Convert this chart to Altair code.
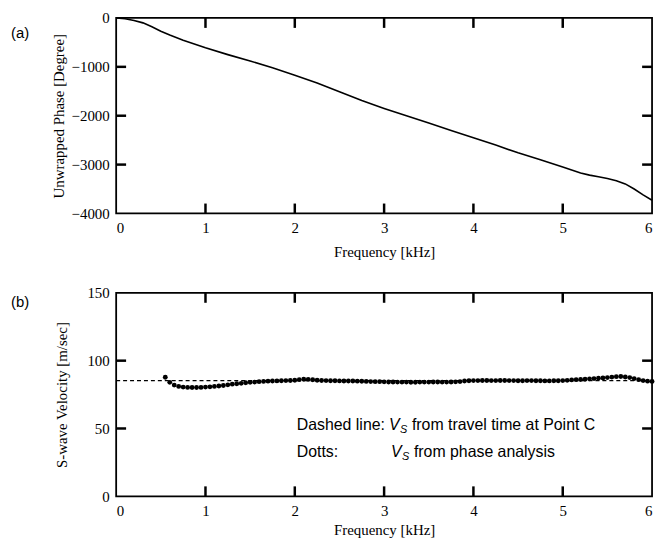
import altair as alt
import pandas as pd

# ---------------- data ----------------
phase_freq = [0.0, 0.1, 0.2, 0.3, 0.4, 0.5, 0.6, 0.75, 1.0, 1.25, 1.5, 1.75, 2.0, 2.25,
              2.5, 2.75, 3.0, 3.25, 3.5, 3.75, 4.0, 4.25, 4.5, 4.75, 5.0, 5.1, 5.2,
              5.3, 5.4, 5.5, 5.6, 5.7, 5.8, 5.9, 6.0]
phase_deg = [0, -15, -50, -100, -180, -270, -350, -455, -610, -750, -880, -1020, -1170,
             -1330, -1510, -1690, -1850, -2000, -2150, -2300, -2450, -2600, -2760, -2900,
             -3050, -3110, -3170, -3215, -3250, -3285, -3330, -3395, -3500, -3620, -3730]

dot_freq = [0.55, 0.60, 0.65, 0.70, 0.75, 0.80, 0.85, 0.90, 0.95, 1.00,
            1.05, 1.10, 1.15, 1.20, 1.25, 1.30, 1.35, 1.40, 1.45, 1.50,
            1.55, 1.60, 1.65, 1.70, 1.75, 1.80, 1.85, 1.90, 1.95, 2.00,
            2.05, 2.10, 2.15, 2.20, 2.25, 2.30, 2.35, 2.40, 2.45, 2.50,
            2.55, 2.60, 2.65, 2.70, 2.75, 2.80, 2.85, 2.90, 2.95, 3.00,
            3.05, 3.10, 3.15, 3.20, 3.25, 3.30, 3.35, 3.40, 3.45, 3.50,
            3.55, 3.60, 3.65, 3.70, 3.75, 3.80, 3.85, 3.90, 3.95, 4.00,
            4.05, 4.10, 4.15, 4.20, 4.25, 4.30, 4.35, 4.40, 4.45, 4.50,
            4.55, 4.60, 4.65, 4.70, 4.75, 4.80, 4.85, 4.90, 4.95, 5.00,
            5.05, 5.10, 5.15, 5.20, 5.25, 5.30, 5.35, 5.40, 5.45, 5.50,
            5.55, 5.60, 5.65, 5.70, 5.75, 5.80, 5.85, 5.90, 5.95, 6.00]
dot_vel = [87.8, 84.0, 82.0, 81.0, 80.5, 80.3, 80.2, 80.2, 80.3, 80.5,
           80.7, 81.0, 81.3, 81.7, 82.2, 82.7, 83.0, 83.3, 83.7, 84.0,
           84.2, 84.5, 84.7, 84.9, 85.0, 85.1, 85.2, 85.3, 85.4, 85.6,
           86.0, 86.3, 86.2, 85.9, 85.6, 85.4, 85.3, 85.2, 85.2, 85.1,
           85.0, 85.0, 85.0, 84.9, 84.8, 84.7, 84.6, 84.5, 84.5, 84.4,
           84.3, 84.3, 84.2, 84.2, 84.2, 84.1, 84.1, 84.2, 84.2, 84.2,
           84.3, 84.3, 84.2, 84.2, 84.3, 84.4, 84.6, 85.0, 85.2, 85.3,
           85.3, 85.4, 85.4, 85.3, 85.3, 85.4, 85.4, 85.3, 85.3, 85.2,
           85.2, 85.3, 85.3, 85.2, 85.2, 85.1, 85.1, 85.2, 85.2, 85.3,
           85.5, 85.8, 86.0, 86.1, 86.3, 86.6, 86.8, 87.0, 87.2, 87.5,
           87.9, 88.2, 88.3, 88.0, 87.5, 86.8, 86.0, 85.3, 84.9, 84.7]

dash_freq = [0.0, 6.0]
dash_vel = [85.3, 85.3]

x_ticks = [0, 1, 2, 3, 4, 5, 6]
phase_ticks = [0, -1000, -2000, -3000, -4000]
vel_ticks = [0, 50, 100, 150]

# inner frame tick positions (frequency, value) on each side of the frames
inner_x_ticks = [1.0, 2.0, 3.0, 4.0, 5.0]
phase_bottom = [-4000.0, -4000.0, -4000.0, -4000.0, -4000.0]
phase_top = [0.0, 0.0, 0.0, 0.0, 0.0]
inner_phase_ticks = [-1000.0, -2000.0, -3000.0]
freq_left3 = [0.0, 0.0, 0.0]
freq_right3 = [6.0, 6.0, 6.0]
vel_bottom = [0.0, 0.0, 0.0, 0.0, 0.0]
vel_top = [150.0, 150.0, 150.0, 150.0, 150.0]
inner_vel_ticks = [50.0, 100.0]
freq_left2 = [0.0, 0.0]
freq_right2 = [6.0, 6.0]

SERIF = "Liberation Serif"
SANS = "Liberation Sans"

W = 540
HA = 197
HB = 205
TICK_SIZE = 400   # symbol size -> 10 px long tick

# ---------------- shared encodings ----------------
xscale = alt.Scale(domain=[0, 6], nice=False, zero=False)


def X(field, title_y=38):
    return alt.X(field, type="quantitative", scale=xscale,
                 axis=alt.Axis(values=x_ticks, format="d", titleY=title_y,
                               titleBaseline="middle"),
                 title="Frequency [kHz]")


pscale = alt.Scale(domain=[-4000, 0], nice=False, zero=False)
paxis = alt.Axis(values=phase_ticks, format="d", titleX=-58, titleBaseline="middle")


def YP(field):
    return alt.Y(field, type="quantitative", scale=pscale, axis=paxis,
                 title="Unwrapped Phase [Degree]")


vscale = alt.Scale(domain=[0, 150], nice=False, zero=False)
vaxis = alt.Axis(values=vel_ticks, format="d", titleX=-55, titleBaseline="middle")


def YV(field):
    return alt.Y(field, type="quantitative", scale=vscale, axis=vaxis,
                 title="S-wave Velocity [m/sec]")


def tick_marks(Xfn, Yfn, fvals, yvals, angle):
    df = pd.DataFrame({"f": fvals, "v": yvals})
    return alt.Chart(df).mark_point(
        shape="M0,0L0,-1", size=TICK_SIZE, filled=False, color="black",
        strokeWidth=2.5, opacity=1, angle=angle
    ).encode(x=Xfn("f"), y=Yfn("v"))


UP, RIGHT, DOWN, LEFT = 0, 90, 180, 270

one = pd.DataFrame({"k": [0]})


def label(text, x, y, size=15, style="normal", font=SANS, baseline="alphabetic"):
    return alt.Chart(one).mark_text(
        font=font, fontSize=size, fontStyle=style, align="left",
        baseline=baseline, color="black"
    ).encode(x=alt.value(x), y=alt.value(y), text=alt.value(text))


# ---------------- panel (a) ----------------
XA = lambda f: X(f, 38)
df_a = pd.DataFrame({"f": phase_freq, "p": phase_deg})
line_a = alt.Chart(df_a).mark_line(color="black", strokeWidth=1.6).encode(
    x=XA("f"), y=YP("p"))

panel_a = alt.layer(
    line_a,
    tick_marks(XA, YP, inner_x_ticks, phase_bottom, UP),
    tick_marks(XA, YP, inner_x_ticks, phase_top, DOWN),
    tick_marks(XA, YP, freq_left3, inner_phase_ticks, RIGHT),
    tick_marks(XA, YP, freq_right3, inner_phase_ticks, LEFT),
    label("(a)", -106, 15, size=15, baseline="middle"),
).properties(width=W, height=HA)

# ---------------- panel (b) ----------------
XB = lambda f: X(f, 34)
df_dash = pd.DataFrame({"f": dash_freq, "v": dash_vel})
dash_b = alt.Chart(df_dash).mark_line(color="black", strokeWidth=1.3,
                                      strokeDash=[4, 3]).encode(x=XB("f"), y=YV("v"))
df_dots = pd.DataFrame({"f": dot_freq, "v": dot_vel})
dots_b = alt.Chart(df_dots).mark_circle(color="black", size=24, opacity=1).encode(
    x=XB("f"), y=YV("v"))

panel_b = alt.layer(
    dash_b,
    dots_b,
    tick_marks(XB, YV, inner_x_ticks, vel_bottom, UP),
    tick_marks(XB, YV, inner_x_ticks, vel_top, DOWN),
    tick_marks(XB, YV, freq_left2, inner_vel_ticks, RIGHT),
    tick_marks(XB, YV, freq_right2, inner_vel_ticks, LEFT),
    label("(b)", -106, 9, size=15, baseline="middle"),
    label("Dashed line:", 182, 138, size=16),
    label("V", 275, 138, size=16, style="italic"),
    label("S", 286, 141, size=11, style="italic"),
    label("from travel time at Point C", 298, 138, size=16),
    label("Dotts:", 182, 165, size=16),
    label("V", 277, 165, size=16, style="italic"),
    label("S", 288, 168, size=11, style="italic"),
    label("from phase analysis", 300, 165, size=16),
).properties(width=W, height=HB)

chart = alt.vconcat(panel_a, panel_b, spacing=25).properties(
    padding={"left": 2, "top": 0, "right": 0, "bottom": 0},
    background="white",
).configure_view(
    stroke="black", strokeWidth=1.8
).configure_axis(
    labelFont=SERIF, labelFontSize=15, labelColor="black",
    titleFont=SERIF, titleFontSize=15, titleFontWeight="normal", titleColor="black",
    domain=False, ticks=False, grid=False, labelPadding=7,
)

chart.save("out.html", embed_options={"renderer": "svg", "actions": False})
